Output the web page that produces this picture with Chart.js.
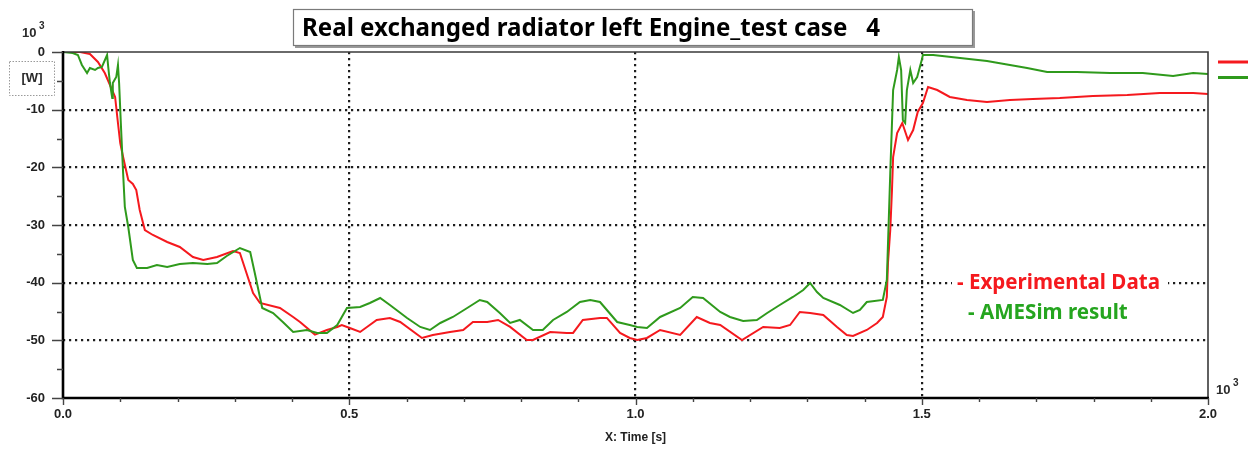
<!DOCTYPE html>
<html>
<head>
<meta charset="utf-8">
<script src="https://cdn.jsdelivr.net/npm/chart.js@4.4.1/dist/chart.umd.min.js"></script>
<style>
  html, body { margin: 0; padding: 0; background: #ffffff; }
  #wrap { width: 1253px; height: 449px; position: relative; }
</style>
</head>
<body>
<div id="wrap"><canvas id="c" width="1253" height="449"></canvas></div>
<script>
// Labels
const chartTitle = 'Real exchanged radiator left Engine_test case   4';
const seriesNames = ['- Experimental Data', '- AMESim result'];
const xAxisTitle = 'X: Time [s]';
const yUnit = '[W]';
const scaleBase = '10';
const scaleExp = '3';

// Tick labels (time in 10^3 s, power in 10^3 W)
const xTickValues = [0, 0.5, 1.0, 1.5, 2.0];
const yTickValues = [0, -10, -20, -30, -40, -50, -60];

// Measured heat exchanged by the left radiator
const expTime = [0, 0.030, 0.047, 0.061, 0.073, 0.091, 0.096, 0.100, 0.105, 0.114,
  0.122, 0.128, 0.134, 0.143, 0.157, 0.182, 0.204, 0.227, 0.245, 0.269,
  0.297, 0.309, 0.332, 0.344, 0.379, 0.402, 0.414, 0.440, 0.461, 0.479,
  0.487, 0.501, 0.519, 0.548, 0.571, 0.589, 0.627, 0.646, 0.676, 0.699,
  0.716, 0.741, 0.760, 0.781, 0.810, 0.821, 0.851, 0.880, 0.891, 0.908,
  0.938, 0.950, 0.973, 0.990, 1.003, 1.020, 1.043, 1.078, 1.107, 1.130,
  1.148, 1.186, 1.223, 1.252, 1.270, 1.287, 1.305, 1.328, 1.352, 1.369,
  1.380, 1.404, 1.422, 1.432, 1.439, 1.441, 1.445, 1.448, 1.450, 1.457,
  1.466, 1.476, 1.485, 1.493, 1.502, 1.511, 1.527, 1.549, 1.579, 1.614,
  1.654, 1.694, 1.741, 1.799, 1.859, 1.916, 1.974, 2.000];
const expPower = [0, 0, -0.35, -1.73, -3.64, -7.80, -12.31, -15.78, -18.21, -22.20,
  -22.89, -23.93, -27.40, -30.87, -31.73, -32.95, -33.81, -35.55, -36.07, -35.55,
  -34.51, -34.85, -41.79, -43.52, -44.39, -45.95, -46.82, -49.00, -48.20, -47.68,
  -47.34, -47.86, -48.55, -46.47, -46.12, -46.82, -49.59, -49.07, -48.55, -48.20,
  -46.82, -46.82, -46.47, -47.68, -49.94, -49.94, -48.55, -48.72, -48.72, -46.47,
  -46.12, -46.12, -48.72, -49.59, -49.94, -49.59, -48.20, -49.07, -45.95, -46.99,
  -47.34, -49.94, -47.68, -47.86, -47.34, -45.08, -45.26, -45.60, -47.68, -49.07,
  -49.25, -48.20, -46.99, -45.95, -42.48, -36.59, -30.87, -23.93, -18.21, -14.05,
  -12.31, -15.26, -13.53, -10.40, -8.84, -6.07, -6.59, -7.80, -8.32, -8.67,
  -8.32, -8.15, -7.98, -7.63, -7.46, -7.11, -7.11, -7.30];

// Simulated heat exchanged by the left radiator
const simTime = [0, 0.017, 0.026, 0.033, 0.042, 0.047, 0.056, 0.061, 0.068, 0.077,
  0.079, 0.082, 0.086, 0.087, 0.093, 0.096, 0.098, 0.101, 0.105, 0.108,
  0.114, 0.122, 0.129, 0.147, 0.164, 0.182, 0.204, 0.227, 0.252, 0.269,
  0.286, 0.309, 0.327, 0.335, 0.348, 0.367, 0.384, 0.402, 0.426, 0.444,
  0.461, 0.479, 0.496, 0.519, 0.536, 0.554, 0.571, 0.601, 0.624, 0.641,
  0.659, 0.681, 0.706, 0.728, 0.741, 0.763, 0.781, 0.798, 0.821, 0.838,
  0.856, 0.880, 0.903, 0.921, 0.938, 0.950, 0.968, 0.990, 1.003, 1.020,
  1.043, 1.078, 1.100, 1.118, 1.148, 1.165, 1.188, 1.212, 1.230, 1.252,
  1.275, 1.293, 1.305, 1.317, 1.328, 1.357, 1.380, 1.392, 1.404, 1.432,
  1.439, 1.445, 1.450, 1.457, 1.460, 1.464, 1.467, 1.471, 1.474, 1.480,
  1.485, 1.492, 1.500, 1.502, 1.520, 1.567, 1.614, 1.654, 1.684, 1.719,
  1.771, 1.829, 1.886, 1.939, 1.974, 2.000];
const simPower = [0, -0.17, -0.52, -2.25, -3.64, -2.77, -3.12, -2.77, -2.60, -0.52,
  -2.60, -5.38, -7.98, -5.38, -4.34, -2.25, -5.38, -12.31, -20.98, -26.88,
  -30.35, -36.07, -37.45, -37.45, -36.93, -37.28, -36.76, -36.59, -36.76, -36.59,
  -35.37, -33.99, -34.68, -38.32, -44.39, -45.26, -46.82, -48.55, -48.20, -48.72,
  -48.72, -47.34, -44.39, -44.22, -43.52, -42.66, -43.87, -46.12, -47.68, -48.20,
  -46.99, -45.95, -44.39, -43.00, -43.35, -45.26, -46.99, -46.47, -48.20, -48.20,
  -46.47, -45.08, -43.35, -43.00, -43.35, -44.74, -46.82, -47.34, -47.68, -47.86,
  -45.95, -44.39, -42.48, -42.66, -45.08, -45.95, -46.64, -46.47, -45.26, -43.87,
  -42.48, -41.27, -40.06, -41.62, -42.66, -43.87, -45.26, -44.74, -43.35, -43.00,
  -39.54, -20.98, -6.59, -3.12, -0.87, -3.12, -11.79, -12.31, -6.59, -3.12,
  -5.38, -4.34, -1.39, -0.52, -0.52, -1.04, -1.56, -2.25, -2.77, -3.47,
  -3.47, -3.64, -3.64, -4.16, -3.64, -3.81];

const RED = '#f5191e';
const GREEN = '#2f9a1c';
const LEGEND_GREEN = '#25a51f';
const AXIS_FONT = "'Liberation Sans Narrow', 'Liberation Sans', Arial, sans-serif";
const TEXT_FONT = "'Noto Sans', 'DejaVu Sans', sans-serif";

function fittedFont(ctx, text, weight, family, width) {
  ctx.font = `${weight} 20px ${family}`;
  const w = ctx.measureText(text).width;
  return `${weight} ${(20 * width / w).toFixed(2)}px ${family}`;
}

// Frame, tick marks, unit labels, boxed title and in-plot legend
const decorations = {
  id: 'decorations',
  beforeDraw(chart) {
    const ctx = chart.ctx;
    ctx.save();
    ctx.fillStyle = '#ffffff';
    ctx.fillRect(0, 0, chart.width, chart.height);
    ctx.restore();
  },
  afterDraw(chart) {
    const { ctx, chartArea: a, scales: { x, y } } = chart;
    ctx.save();

    // plot frame
    ctx.lineCap = 'butt';
    ctx.strokeStyle = '#3a3a3a';
    ctx.lineWidth = 1.6;
    ctx.beginPath();
    ctx.moveTo(a.left, a.top); ctx.lineTo(a.right, a.top); ctx.lineTo(a.right, a.bottom);
    ctx.stroke();
    ctx.strokeStyle = '#000000';
    ctx.lineWidth = 2.6;
    ctx.beginPath();
    ctx.moveTo(a.left, a.top - 1); ctx.lineTo(a.left, a.bottom); ctx.lineTo(a.right + 1, a.bottom);
    ctx.stroke();

    // major and minor tick marks
    ctx.strokeStyle = '#444444';
    ctx.lineWidth = 1.4;
    ctx.beginPath();
    for (let v = -60; v <= 0; v += 5) {
      const py = Math.round(y.getPixelForValue(v)) + 0.5;
      const len = (v % 10 === 0) ? 11 : 6;
      ctx.moveTo(a.left - len, py); ctx.lineTo(a.left, py);
    }
    for (let i = 0; i <= 20; i++) {
      const px = Math.round(x.getPixelForValue(i / 10)) + 0.5;
      const len = (i % 5 === 0) ? 7 : 4;
      ctx.moveTo(px, a.bottom); ctx.lineTo(px, a.bottom + len);
    }
    ctx.stroke();

    // power-of-ten multipliers
    ctx.fillStyle = '#2b2b2b';
    ctx.textBaseline = 'alphabetic';
    ctx.textAlign = 'left';
    ctx.font = `bold 13px ${AXIS_FONT}`;
    ctx.fillText(scaleBase, 22, 37);
    ctx.fillText(scaleBase, 1216, 394);
    ctx.font = `bold 10px ${AXIS_FONT}`;
    ctx.fillText(scaleExp, 39, 29);
    ctx.fillText(scaleExp, 1233, 386);

    // unit label in dotted box
    ctx.strokeStyle = '#9a9a9a';
    ctx.lineWidth = 1;
    ctx.setLineDash([1.5, 1.5]);
    ctx.strokeRect(9.5, 61.5, 45, 34);
    ctx.setLineDash([]);
    ctx.font = `bold 13px ${AXIS_FONT}`;
    ctx.textAlign = 'center';
    ctx.textBaseline = 'middle';
    ctx.fillText(yUnit, 32, 78);

    // boxed title
    ctx.fillStyle = '#ffffff';
    ctx.fillRect(293, 9, 680, 37);
    ctx.fillStyle = '#9a9a9a';
    ctx.fillRect(295, 46, 680, 2);
    ctx.fillRect(973, 11, 2, 37);
    ctx.strokeStyle = '#7a7a7a';
    ctx.lineWidth = 1.2;
    ctx.strokeRect(293.5, 9.5, 679, 36);
    ctx.fillStyle = '#000000';
    ctx.textAlign = 'left';
    ctx.textBaseline = 'alphabetic';
    ctx.font = fittedFont(ctx, chartTitle, 'bold', TEXT_FONT, 578);
    ctx.fillText(chartTitle, 302, 36);

    // in-plot legend
    const lf = fittedFont(ctx, seriesNames[0], 'bold', TEXT_FONT, 203);
    ctx.font = lf;
    ctx.fillStyle = '#ffffff';
    ctx.fillRect(952, 274, 216, 19);
    ctx.textBaseline = 'middle';
    ctx.fillStyle = RED;
    ctx.fillText(seriesNames[0], 957, 283);
    ctx.fillStyle = LEGEND_GREEN;
    ctx.fillText(seriesNames[1], 968, 313);

    // series swatches beside the frame
    ctx.lineWidth = 3;
    ctx.strokeStyle = RED;
    ctx.beginPath(); ctx.moveTo(1218, 62); ctx.lineTo(1248, 62); ctx.stroke();
    ctx.strokeStyle = GREEN;
    ctx.beginPath(); ctx.moveTo(1218, 77.5); ctx.lineTo(1248, 77.5); ctx.stroke();

    ctx.restore();
  }
};

const toPoints = (xs, ys) => xs.map((t, i) => ({ x: t, y: ys[i] }));
const tickFont = { family: AXIS_FONT, size: 13, weight: 'bold' };

new Chart(document.getElementById('c'), {
  type: 'line',
  data: {
    datasets: [
      { label: seriesNames[0], data: toPoints(expTime, expPower), borderColor: RED,
        borderWidth: 2, pointRadius: 0, tension: 0, order: 1 },
      { label: seriesNames[1], data: toPoints(simTime, simPower), borderColor: GREEN,
        borderWidth: 2, pointRadius: 0, tension: 0, order: 0 }
    ]
  },
  plugins: [decorations],
  options: {
    responsive: false,
    animation: false,
    devicePixelRatio: 1,
    layout: { padding: { left: 0, right: 45, top: 52, bottom: 0 } },
    plugins: { legend: { display: false }, tooltip: { enabled: false }, title: { display: false } },
    scales: {
      x: {
        type: 'linear', min: 0, max: 2,
        afterBuildTicks: s => { s.ticks = xTickValues.map(v => ({ value: v })); },
        afterFit: s => { s.height = 51; },
        ticks: { callback: v => Number(v).toFixed(1), font: tickFont, color: '#222',
          padding: 9, maxRotation: 0, autoSkip: false },
        grid: {
          color: c => (c.tick && c.tick.value > 0 && c.tick.value < 2) ? '#1e1e1e' : 'rgba(0,0,0,0)',
          lineWidth: 2.2, drawTicks: false
        },
        border: { display: false, dash: [2.2, 3.8] },
        title: { display: true, text: xAxisTitle, font: { family: AXIS_FONT, size: 12, weight: 'bold' },
          color: '#222', padding: { top: 0, bottom: 4 } }
      },
      y: {
        min: -60, max: 0,
        afterBuildTicks: s => { s.ticks = yTickValues.map(v => ({ value: v })); },
        afterFit: s => { s.width = 63; },
        ticks: { callback: v => String(v), font: tickFont, color: '#222', padding: 18 },
        grid: {
          color: c => (c.tick && c.tick.value < 0 && c.tick.value > -60) ? '#1e1e1e' : 'rgba(0,0,0,0)',
          lineWidth: 2.2, drawTicks: false
        },
        border: { display: false, dash: [2.2, 3.8] }
      }
    }
  }
});
</script>
</body>
</html>
